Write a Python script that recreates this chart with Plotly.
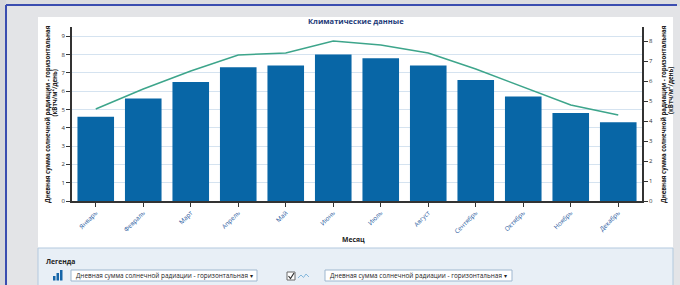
import plotly.graph_objects as go

months = ["Январь", "Февраль", "Март", "Апрель", "Май", "Июнь",
          "Июль", "Август", "Сентябрь", "Октябрь", "Ноябрь", "Декабрь"]
radiation_bars = [4.6, 5.6, 6.5, 7.3, 7.4, 8.0, 7.8, 7.4, 6.6, 5.7, 4.8, 4.3]
radiation_line = [4.6, 5.6, 6.5, 7.3, 7.4, 8.0, 7.8, 7.4, 6.6, 5.7, 4.8, 4.3]
left_ticks = [0, 1, 2, 3, 4, 5, 6, 7, 8, 9]
right_ticks = [0, 1, 2, 3, 4, 5, 6, 7, 8]

title_text = "Климатические данные"
y_title_1 = "Дневная сумма солнечной радиации - горизонтальная"
y_title_2 = "(кВтч/м<sup>2</sup>/день)"
x_title = "Месяц"
legend_title = "Легенда"
legend_item = "Дневная сумма солнечной радиации - горизонтальная ▾"

FONT = "Open Sans, Noto Sans, sans-serif"
L, R, T, B = 72, 642, 27, 201


def px(x):
    return (x - L) / (R - L)


def py(y):
    return (B - y) / (B - T)


fig = go.Figure()
fig.add_trace(go.Bar(x=months, y=radiation_bars, marker_color="#0866a6",
                     marker_line_width=0, yaxis="y", showlegend=False))
fig.add_trace(go.Scatter(x=months, y=radiation_line, mode="lines",
                         line=dict(color="#3da58b", width=1.5), yaxis="y2",
                         showlegend=False))

shapes = []


def rect(x0, y0, x1, y1, fill, line=None, lw=1, layer="below"):
    shapes.append(dict(type="rect", xref="paper", yref="paper",
                       x0=px(x0), x1=px(x1), y0=py(y0), y1=py(y1),
                       fillcolor=fill, layer=layer,
                       line=dict(color=line or fill, width=lw if line else 0)))


def seg(x0, y0, x1, y1, color, w, layer="below"):
    shapes.append(dict(type="line", xref="paper", yref="paper",
                       x0=px(x0), x1=px(x1), y0=py(y0), y1=py(y1),
                       layer=layer, line=dict(color=color, width=w)))


# backgrounds
rect(7, 6, 680, 290, "#e3e4e7")
rect(0, 0, 6, 290, "#d6d7db")
rect(38, 17, 673, 248, "#ffffff")
rect(38, 248, 673, 292, "#e8eff6", "#b3c9de", 1)
seg(6, 5, 677, 5, "#3a4db0", 2)
seg(6, 5, 6, 290, "#3a4db0", 2)

# legend widgets
rect(71, 270, 257, 281, "#ffffff", "#9fb7cf", 1, layer="above")
rect(325, 270, 512, 281, "#ffffff", "#9fb7cf", 1, layer="above")
rect(53, 276, 55.5, 280.5, "#1565a8", layer="above")
rect(56.5, 273, 59, 280.5, "#1565a8", layer="above")
rect(60, 270, 62.5, 280.5, "#1565a8", layer="above")
rect(287, 272, 295, 280, "#ffffff", "#6a6a6a", 1, layer="above")
shapes.append(dict(type="path", xref="paper", yref="paper", layer="above",
                   path="M %f,%f L %f,%f L %f,%f" % (px(288.5), py(276), px(290.5), py(278.5), px(294), py(273)),
                   line=dict(color="#303030", width=1.2)))
shapes.append(dict(type="path", xref="paper", yref="paper", layer="above",
                   path="M %f,%f L %f,%f L %f,%f L %f,%f L %f,%f" % (
                       px(298), py(278), px(301), py(275), px(303.5), py(277.5),
                       px(306), py(274), px(309), py(277)),
                   line=dict(color="#86b8dc", width=1)))

annotations = [
    dict(text="<b>%s</b>" % title_text, x=px(356), y=py(21), xref="paper", yref="paper",
         showarrow=False, font=dict(size=7.5, color="#1d3a78", family=FONT),
         xanchor="center", yanchor="middle"),
    dict(text="<b>%s</b>" % y_title_1, x=px(47), y=py(114), xref="paper", yref="paper",
         showarrow=False, textangle=-90, font=dict(size=6.1, color="#222", family=FONT),
         xanchor="center", yanchor="middle"),
    dict(text="<b>%s</b>" % y_title_2, x=px(54.5), y=py(93), xref="paper", yref="paper",
         showarrow=False, textangle=-90, font=dict(size=6.1, color="#222", family=FONT),
         xanchor="center", yanchor="middle"),
    dict(text="<b>%s</b>" % y_title_1, x=px(663), y=py(114), xref="paper", yref="paper",
         showarrow=False, textangle=-90, font=dict(size=6.1, color="#222", family=FONT),
         xanchor="center", yanchor="middle"),
    dict(text="<b>%s</b>" % y_title_2, x=px(670), y=py(91), xref="paper", yref="paper",
         showarrow=False, textangle=-90, font=dict(size=6.1, color="#222", family=FONT),
         xanchor="center", yanchor="middle"),
    dict(text="<b>%s</b>" % x_title, x=px(353), y=py(240), xref="paper", yref="paper",
         showarrow=False, font=dict(size=6.8, color="#222", family=FONT),
         xanchor="center", yanchor="middle"),
    dict(text="<b>%s</b>" % legend_title, x=px(44), y=py(261), xref="paper", yref="paper",
         showarrow=False, font=dict(size=6.8, color="#222", family=FONT),
         xanchor="left", yanchor="middle"),
    dict(text=legend_item, x=px(74), y=py(275.5), xref="paper", yref="paper",
         showarrow=False, font=dict(size=6.4, color="#222", family=FONT),
         xanchor="left", yanchor="middle"),
    dict(text=legend_item, x=px(328), y=py(275.5), xref="paper", yref="paper",
         showarrow=False, font=dict(size=6.4, color="#222", family=FONT),
         xanchor="left", yanchor="middle"),
]

fig.update_layout(
    template="none",
    width=680, height=285, autosize=False,
    margin=dict(l=L, r=680 - R, t=T, b=285 - B, pad=0, autoexpand=False),
    paper_bgcolor="#dcdde0", plot_bgcolor="rgba(0,0,0,0)",
    font=dict(family=FONT, size=6, color="#333"),
    bargap=0.23, showlegend=False,
    shapes=shapes, annotations=annotations,
    xaxis=dict(type="category", range=[-0.5, 11.5], showline=True, linecolor="#333",
               linewidth=1.5, ticks="outside", ticklen=4, tickcolor="#333", tickwidth=1,
               tickangle=-45, tickfont=dict(size=6.3, color="#1f5a9e"), showgrid=False,
               automargin=False, fixedrange=True),
    yaxis=dict(range=[0, 9.5], tickvals=left_ticks, showgrid=True, gridcolor="#d5e3f0",
               gridwidth=1, showline=True, linecolor="#333", linewidth=1.5, ticks="outside",
               ticklen=4, tickcolor="#333", tickfont=dict(size=6, color="#333"),
               zeroline=False, automargin=False),
    yaxis2=dict(range=[0, 8.7], tickvals=right_ticks, overlaying="y", side="right",
                showgrid=False, showline=True, linecolor="#333", linewidth=1.5,
                ticks="outside", ticklen=4, tickcolor="#333",
                tickfont=dict(size=6, color="#333"), zeroline=False, automargin=False),
)

fig.write_html("out.html", config={"displayModeBar": False},
               post_script="document.body.style.margin='0px';document.body.style.overflow='hidden';")
